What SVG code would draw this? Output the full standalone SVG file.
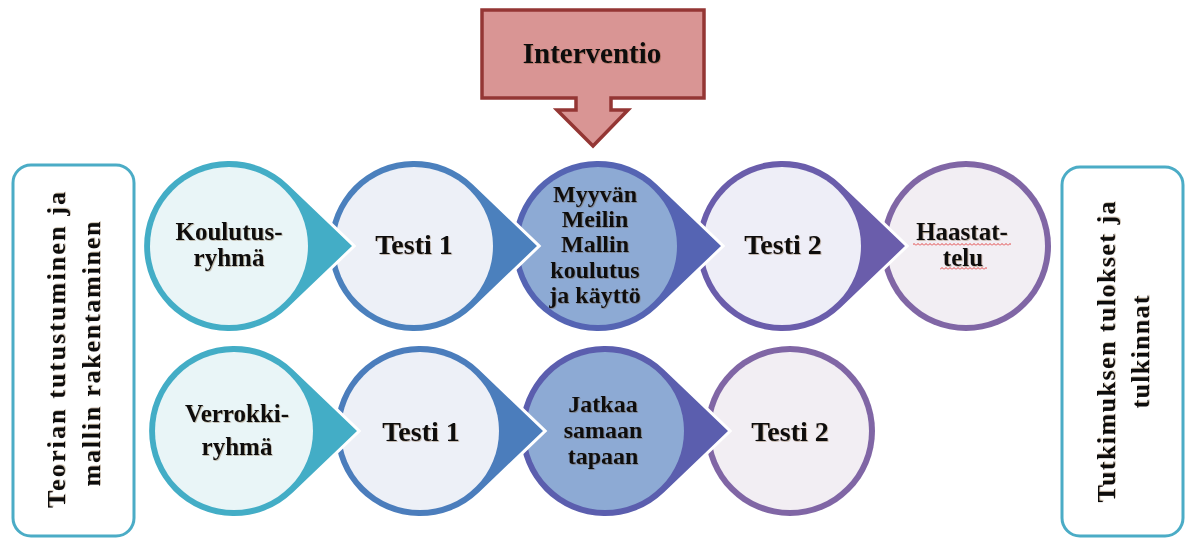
<svg xmlns="http://www.w3.org/2000/svg" xmlns:xlink="http://www.w3.org/1999/xlink" width="1193" height="540" viewBox="0 0 1193 540">
<style>
.lbl{font-family:"Liberation Serif","Times New Roman",serif;font-weight:bold;fill:#111;text-anchor:middle;filter:url(#sh)}
.s24{font-size:24px}
.s25{font-size:25px}
.s28{font-size:28px}
.s29{font-size:29px}
.s26{font-size:26px}
.halo{fill:#fff;stroke:#fff;stroke-width:6}
.side{fill:#fff;stroke:#4BACC6;stroke-width:3}
.squig{fill:none;stroke:#e03030;stroke-width:0.9}
</style>
<defs>
<filter id="sh" x="-10%" y="-10%" width="120%" height="130%">
<feDropShadow dx="0.8" dy="0.8" stdDeviation="0.4" flood-color="#5a3000" flood-opacity="0.35"/>
</filter>
<path id="drop" d="M123,0 L58.8,-61.5 A85,85 0 1 0 58.8,61.5 Z"/>
<pattern id="wavy" x="0" y="0" width="4" height="3" patternUnits="userSpaceOnUse">
<path class="squig" d="M0,2.5 L2,0.5 L4,2.5"/>
</pattern>
</defs>
<rect width="1193" height="540" fill="#fff"/>

<g id="connectors"></g>

<!-- side boxes -->
<g id="node-teoria">
<rect class="side" x="13" y="165" width="121" height="371" rx="18"/>
<text class="lbl s26" transform="translate(65,350) rotate(-90)" textLength="316" lengthAdjust="spacing">Teorian tutustuminen ja</text>
<text class="lbl s26" transform="translate(100,354) rotate(-90)" textLength="265" lengthAdjust="spacing">mallin rakentaminen</text>
</g>
<g id="node-tulokset">
<rect class="side" x="1062" y="167" width="121" height="369" rx="18"/>
<text class="lbl s26" transform="translate(1115,352) rotate(-90)" textLength="301" lengthAdjust="spacing">Tutkimuksen tulokset ja</text>
<text class="lbl s26" transform="translate(1149,352) rotate(-90)" textLength="113" lengthAdjust="spacing">tulkinnat</text>
</g>

<!-- Interventio -->
<g id="node-interventio">
<path d="M482,10 H704 V98 H611 V110 H628 L593,146 L557,110 H576 V98 H482 Z" fill="#D99594" stroke="#943634" stroke-width="3.5" stroke-linejoin="miter"/>
<text class="lbl s29" x="592" y="63">Interventio</text>
</g>

<!-- Row 1 (drawn right to left) -->
<g id="node-haastattelu">
<circle cx="966" cy="246" r="85" fill="#8066A5"/>
<circle cx="966" cy="246" r="79" fill="#F2EEF3"/>
<text class="lbl s25" x="962" y="240">Haastat-</text>
<text class="lbl s25" x="963" y="266">telu</text>
<rect x="913" y="243" width="98" height="3" fill="url(#wavy)"/>
<rect x="940" y="267" width="47" height="3" fill="url(#wavy)"/>
</g>
<g id="node-testi2-a">
<use href="#drop" xlink:href="#drop" class="halo" transform="translate(782,246)"/>
<use href="#drop" xlink:href="#drop" fill="#6A5DAB" transform="translate(782,246)"/>
<circle cx="782" cy="246" r="79" fill="#EEEEF7"/>
<text class="lbl s28" x="783" y="254">Testi 2</text>
</g>
<g id="node-myyvan">
<use href="#drop" xlink:href="#drop" class="halo" transform="translate(598,246)"/>
<use href="#drop" xlink:href="#drop" fill="#5564B3" transform="translate(598,246)"/>
<circle cx="598" cy="246" r="79" fill="#8DAAD4"/>
<text class="lbl s24" x="595" y="202">Myyvän</text>
<text class="lbl s24" x="595" y="227">Meilin</text>
<text class="lbl s24" x="595" y="252">Mallin</text>
<text class="lbl s24" x="595" y="278">koulutus</text>
<text class="lbl s24" x="595" y="303">ja käyttö</text>
</g>
<g id="node-testi1-a">
<use href="#drop" xlink:href="#drop" class="halo" transform="translate(414,246)"/>
<use href="#drop" xlink:href="#drop" fill="#4B80BD" transform="translate(414,246)"/>
<circle cx="414" cy="246" r="79" fill="#EDF0F7"/>
<text class="lbl s28" x="414" y="254">Testi 1</text>
</g>
<g id="node-koulutusryhma">
<use href="#drop" xlink:href="#drop" class="halo" transform="translate(229,246)"/>
<use href="#drop" xlink:href="#drop" fill="#43ADC6" transform="translate(229,246)"/>
<circle cx="229" cy="246" r="79" fill="#E9F5F7"/>
<text class="lbl s25" x="229" y="240">Koulutus-</text>
<text class="lbl s25" x="229" y="266">ryhmä</text>
</g>

<!-- Row 2 (drawn right to left) -->
<g id="node-testi2-b">
<circle cx="790" cy="431" r="85" fill="#8066A5"/>
<circle cx="790" cy="431" r="79" fill="#F2EEF3"/>
<text class="lbl s28" x="790" y="441">Testi 2</text>
</g>
<g id="node-jatkaa">
<use href="#drop" xlink:href="#drop" class="halo" transform="translate(605,431)"/>
<use href="#drop" xlink:href="#drop" fill="#5B5EAE" transform="translate(605,431)"/>
<circle cx="605" cy="431" r="79" fill="#8DAAD4"/>
<text class="lbl s24" x="603" y="412">Jatkaa</text>
<text class="lbl s24" x="603" y="438">samaan</text>
<text class="lbl s24" x="603" y="464">tapaan</text>
</g>
<g id="node-testi1-b">
<use href="#drop" xlink:href="#drop" class="halo" transform="translate(420,431)"/>
<use href="#drop" xlink:href="#drop" fill="#4B7DBC" transform="translate(420,431)"/>
<circle cx="420" cy="431" r="79" fill="#EDF0F7"/>
<text class="lbl s28" x="421" y="441">Testi 1</text>
</g>
<g id="node-verrokkiryhma">
<use href="#drop" xlink:href="#drop" class="halo" transform="translate(234,431)"/>
<use href="#drop" xlink:href="#drop" fill="#43ADC6" transform="translate(234,431)"/>
<circle cx="234" cy="431" r="79" fill="#E9F5F7"/>
<text class="lbl s25" x="237" y="422">Verrokki-</text>
<text class="lbl s25" x="237" y="455">ryhmä</text>
</g>
</svg>
